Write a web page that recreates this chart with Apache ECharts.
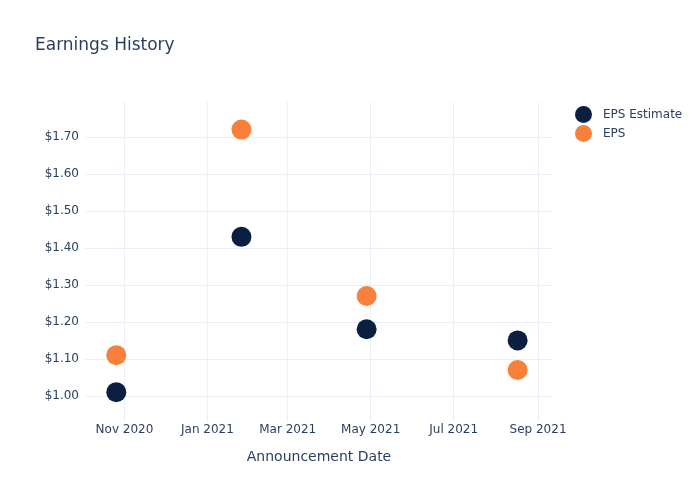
<!DOCTYPE html>
<html>
<head>
<meta charset="utf-8">
<script src="https://cdn.jsdelivr.net/npm/echarts@6/dist/echarts.min.js"></script>
<style>html,body{margin:0;padding:0;background:#fff}#c{width:700px;height:500px}</style>
</head>
<body>
<div id="c"></div>
<script>
const dates = ['2020-10-26', '2021-01-26', '2021-04-28', '2021-08-17'];
const epsEstimate = [1.01, 1.43, 1.18, 1.15];
const eps = [1.11, 1.72, 1.27, 1.07];
const monthNames = ['Jan','Feb','Mar','Apr','May','Jun','Jul','Aug','Sep','Oct','Nov','Dec'];

const font = 'DejaVu Sans';
const textColor = '#2a3f5f';
const gridColor = '#ebf0f8';

const chart = echarts.init(document.getElementById('c'), null, {renderer: 'canvas'});
chart.setOption({
  backgroundColor: '#fff',
  animation: false,
  title: {
    text: 'Earnings History',
    left: 30, top: 32,
    textStyle: {fontFamily: font, fontSize: 17, fontWeight: 'normal', color: textColor}
  },
  legend: {
    orient: 'vertical',
    left: 570, top: 101,
    itemWidth: 17, itemHeight: 17, itemGap: 2,
    icon: 'circle',
    textStyle: {fontFamily: font, fontSize: 12, color: textColor, padding: [0, 0, 0, 6]},
    data: ['EPS Estimate', 'EPS']
  },
  grid: {left: 85, right: 147, top: 102, bottom: 79, containLabel: false},
  xAxis: {
    type: 'time',
    min: new Date(2020, 9, 3).getTime(),
    max: new Date(2021, 8, 12).getTime(),
    minInterval: 61 * 86400000,
    splitNumber: 5,
    name: 'Announcement Date',
    nameLocation: 'middle',
    nameGap: 29,
    nameTextStyle: {fontFamily: font, fontSize: 14, color: textColor},
    axisLine: {show: false},
    axisTick: {show: false},
    axisLabel: {
      fontFamily: font, fontSize: 12, color: textColor, margin: 3,
      showMinLabel: false, showMaxLabel: false,
      formatter: function (v) { const d = new Date(v); return monthNames[d.getMonth()] + ' ' + d.getFullYear(); }
    },
    splitLine: {show: true, showMinLine: false, showMaxLine: false, lineStyle: {color: gridColor, width: 1}}
  },
  yAxis: {
    type: 'value',
    min: 0.932,
    max: 1.7946,
    splitNumber: 8,
    axisLine: {show: false},
    axisTick: {show: false},
    axisLabel: {
      fontFamily: font, fontSize: 12, color: textColor, margin: 6,
      showMinLabel: false, showMaxLabel: false,
      formatter: function (v) { return '$' + v.toFixed(2); }
    },
    splitLine: {show: true, showMinLine: false, showMaxLine: false, lineStyle: {color: gridColor, width: 1}}
  },
  series: [
    {
      name: 'EPS Estimate', type: 'scatter', symbolSize: 20,
      itemStyle: {color: '#0b1f41', opacity: 1},
      data: dates.map((d, i) => [d, epsEstimate[i]])
    },
    {
      name: 'EPS', type: 'scatter', symbolSize: 20,
      itemStyle: {color: '#f7803a', opacity: 1},
      data: dates.map((d, i) => [d, eps[i]])
    }
  ]
});
</script>
</body>
</html>
